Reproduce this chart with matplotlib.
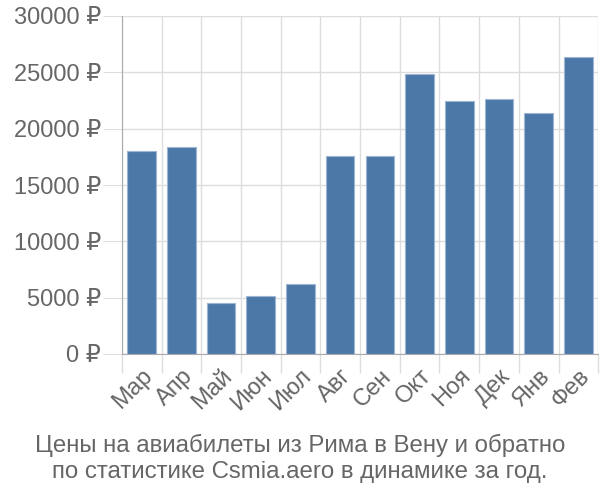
import matplotlib
matplotlib.use('Agg')
import matplotlib.pyplot as plt
import numpy as np

months = ['Мар', 'Апр', 'Май', 'Июн', 'Июл', 'Авг', 'Сен', 'Окт', 'Ноя', 'Дек', 'Янв', 'Фев']
prices = [18000, 18350, 4500, 5150, 6250, 17600, 17600, 24850, 22450, 22650, 21400, 26350]
yticks = [0, 5000, 10000, 15000, 20000, 25000, 30000]
title = 'Цены на авиабилеты из Рима в Вену и обратно\nпо статистике Csmia.aero в динамике за год.'

plt.rcParams['font.family'] = ['Liberation Sans', 'DejaVu Sans']

fig = plt.figure(figsize=(6, 5), dpi=100)
ax = fig.add_axes([0.203, 0.292, 0.794, 0.676])

x = np.arange(len(months))
ax.bar(x, prices, width=0.72, color='#4c78a8', edgecolor='#9db5d3', linewidth=0.8, zorder=3)

ax.set_xlim(-0.5, len(months) - 0.5)
ax.set_ylim(0, 30000)
ax.set_yticks(yticks)
ax.set_yticklabels([f'{v} ₽' for v in yticks])
ax.set_xticks(x)
ax.set_xticklabels(months, rotation=45, ha='right', rotation_mode='anchor')
ax.set_xticks(np.arange(-0.5, len(months)), minor=True)

ax.grid(axis='y', color='#dddddd', linewidth=1, zorder=0)
ax.grid(axis='x', which='minor', color='#dddddd', linewidth=1, zorder=0)
ax.tick_params(axis='x', which='major', length=0, labelsize=17, labelcolor='#666666', pad=8)
ax.tick_params(axis='x', which='minor', length=14, color='#dddddd', width=1)
ax.tick_params(axis='y', length=14, color='#dddddd', labelsize=17, labelcolor='#666666', pad=1)

for s in ['top', 'right']:
    ax.spines[s].set_visible(False)
ax.spines['left'].set_color('#aaaaaa')
ax.spines['bottom'].set_color('#aaaaaa')

fig.text(0.5, 0.083, title, ha='center', va='center', fontsize=17.3, color='#666666', linespacing=1.2)

fig.savefig('out.png', dpi=100)
